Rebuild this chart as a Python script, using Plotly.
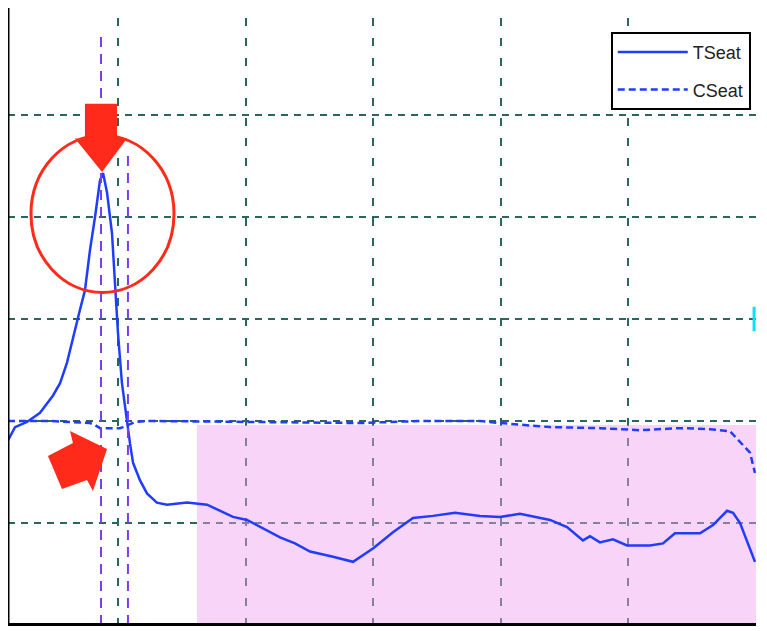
import plotly.graph_objects as go

# TSeat trace (solid)
tseat_x = [0.138, 0.193, 0.287, 0.389, 0.491, 0.546, 0.600, 0.647, 0.702, 0.741,
           0.781, 0.820, 0.859, 0.883, 0.914, 0.953, 0.977, 1.000, 1.031, 1.071,
           1.094, 1.118, 1.172, 1.227, 1.305, 1.384, 1.541, 1.698, 1.799, 1.901,
           2.011, 2.113, 2.270, 2.387, 2.505, 2.685, 2.842, 2.998, 3.155, 3.312,
           3.469, 3.641, 3.837, 3.994, 4.150, 4.386, 4.519, 4.644, 4.699, 4.777,
           4.879, 4.989, 5.169, 5.271, 5.365, 5.561, 5.663, 5.773, 5.820, 5.875,
           5.992]
tseat_y = [1.81, 1.94, 1.99, 2.08, 2.25, 2.37, 2.57, 2.82, 3.09, 3.28,
           3.68, 4.00, 4.36, 4.43, 4.24, 3.84, 3.35, 2.86, 2.37, 1.98,
           1.78, 1.59, 1.42, 1.29, 1.20, 1.18, 1.20, 1.18, 1.12, 1.06,
           1.03, 0.96, 0.86, 0.80, 0.72, 0.67, 0.62, 0.75, 0.91, 1.05,
           1.07, 1.10, 1.07, 1.06, 1.09, 1.03, 0.96, 0.83, 0.87, 0.81,
           0.84, 0.78, 0.78, 0.80, 0.90, 0.90, 0.98, 1.12, 1.10, 1.00,
           0.62]

# CSeat trace (dashed)
cseat_x = [0.138, 0.467, 0.781, 0.820, 0.859, 1.016, 1.039, 1.133, 1.251, 2.426,
           2.897, 3.367, 3.837, 3.994, 4.386, 4.777, 5.091, 5.404, 5.639, 5.796,
           5.875, 5.953, 5.992]
cseat_y = [2.00, 2.00, 1.98, 1.96, 1.93, 1.93, 1.94, 1.99, 2.00, 1.99,
           1.98, 2.00, 2.00, 1.98, 1.94, 1.93, 1.91, 1.93, 1.92, 1.90,
           1.79, 1.69, 1.49]

# marker lines and highlighted window
marker_x = [0.867, 1.078]
marker_top = [5.81, 4.66]
window_x = [1.619, 6.0]
window_top = 1.96

GRID = "#2a6660"
BLUE = "#1f3cff"
RED = "#ff2a1a"

fig = go.Figure()
fig.add_trace(go.Scatter(x=tseat_x, y=tseat_y, mode="lines", name="TSeat",
                         legendgroup="t", line=dict(color=BLUE, width=2.5)))
fig.add_trace(go.Scatter(x=cseat_x, y=cseat_y, mode="lines", name="CSeat",
                         legendgroup="c", line=dict(color=BLUE, width=2.5, dash="7px,4px")))

shapes = []
# pink window
shapes.append(dict(type="rect", xref="x", yref="y", x0=window_x[0], x1=window_x[1],
                   y0=0, y1=window_top, fillcolor="rgba(240,160,240,0.45)",
                   line=dict(width=0), layer="between"))
# purple vertical markers
for mx, mt in zip(marker_x, marker_top):
    shapes.append(dict(type="line", xref="x", yref="y", x0=mx, x1=mx, y0=0, y1=mt,
                       line=dict(color="#7a3cf5", width=2, dash="10px,7px")))
# red circle round the peak
shapes.append(dict(type="circle", xref="x", yref="y", x0=0.318, x1=1.439,
                   y0=3.26, y1=4.80, line=dict(color=RED, width=3)))
# downward arrow
shapes.append(dict(type="path", xref="x", yref="y",
                   path="M0.741,5.11 L0.992,5.11 L0.992,4.77 L1.071,4.77 L0.875,4.44 L0.663,4.77 L0.741,4.77 Z",
                   fillcolor=RED, line=dict(width=0)))
# up-right arrow
shapes.append(dict(type="path", xref="x", yref="y",
                   path="M0.624,1.902 L0.914,1.725 L0.804,1.314 L0.757,1.422 L0.561,1.333 L0.451,1.657 L0.647,1.784 Z",
                   fillcolor=RED, line=dict(width=0)))
# small cyan tick on the right edge
shapes.append(dict(type="line", xref="x", yref="y", x0=5.985, x1=5.985, y0=2.88, y1=3.12,
                   line=dict(color="#00e5ff", width=3)))
# left axis runs a little above the plot area
shapes.append(dict(type="line", xref="paper", yref="paper", x0=0, x1=0, y0=0, y1=1.018,
                   line=dict(color="black", width=3)))

# page body adds an 8px offset, so the figure is a bit smaller than the window
fig.update_layout(
    width=759, height=623,
    margin=dict(l=0, r=11, t=10, b=8),
    paper_bgcolor="white", plot_bgcolor="white",
    shapes=shapes,
    showlegend=True,
    legend=dict(x=0.993, y=0.977, xanchor="right", yanchor="top",
                bordercolor="black", borderwidth=2, bgcolor="white",
                font=dict(family="Liberation Sans, Arial", size=18, color="#222"),
                itemwidth=70, tracegroupgap=11, traceorder="grouped"),
)
fig.update_xaxes(range=[0.138, 6.0], dtick=1, tick0=0, showticklabels=False,
                 showgrid=True, gridcolor=GRID, gridwidth=2, griddash="8px,12px",
                 zeroline=False, showline=True, linecolor="black", linewidth=3, ticks="")
fig.update_yaxes(range=[0.02, 5.95], dtick=1, tick0=0, showticklabels=False,
                 showgrid=True, gridcolor=GRID, gridwidth=2, griddash="7px,6px",
                 zeroline=False, showline=True, linecolor="black", linewidth=3, ticks="")

fig.write_html("out.html")
